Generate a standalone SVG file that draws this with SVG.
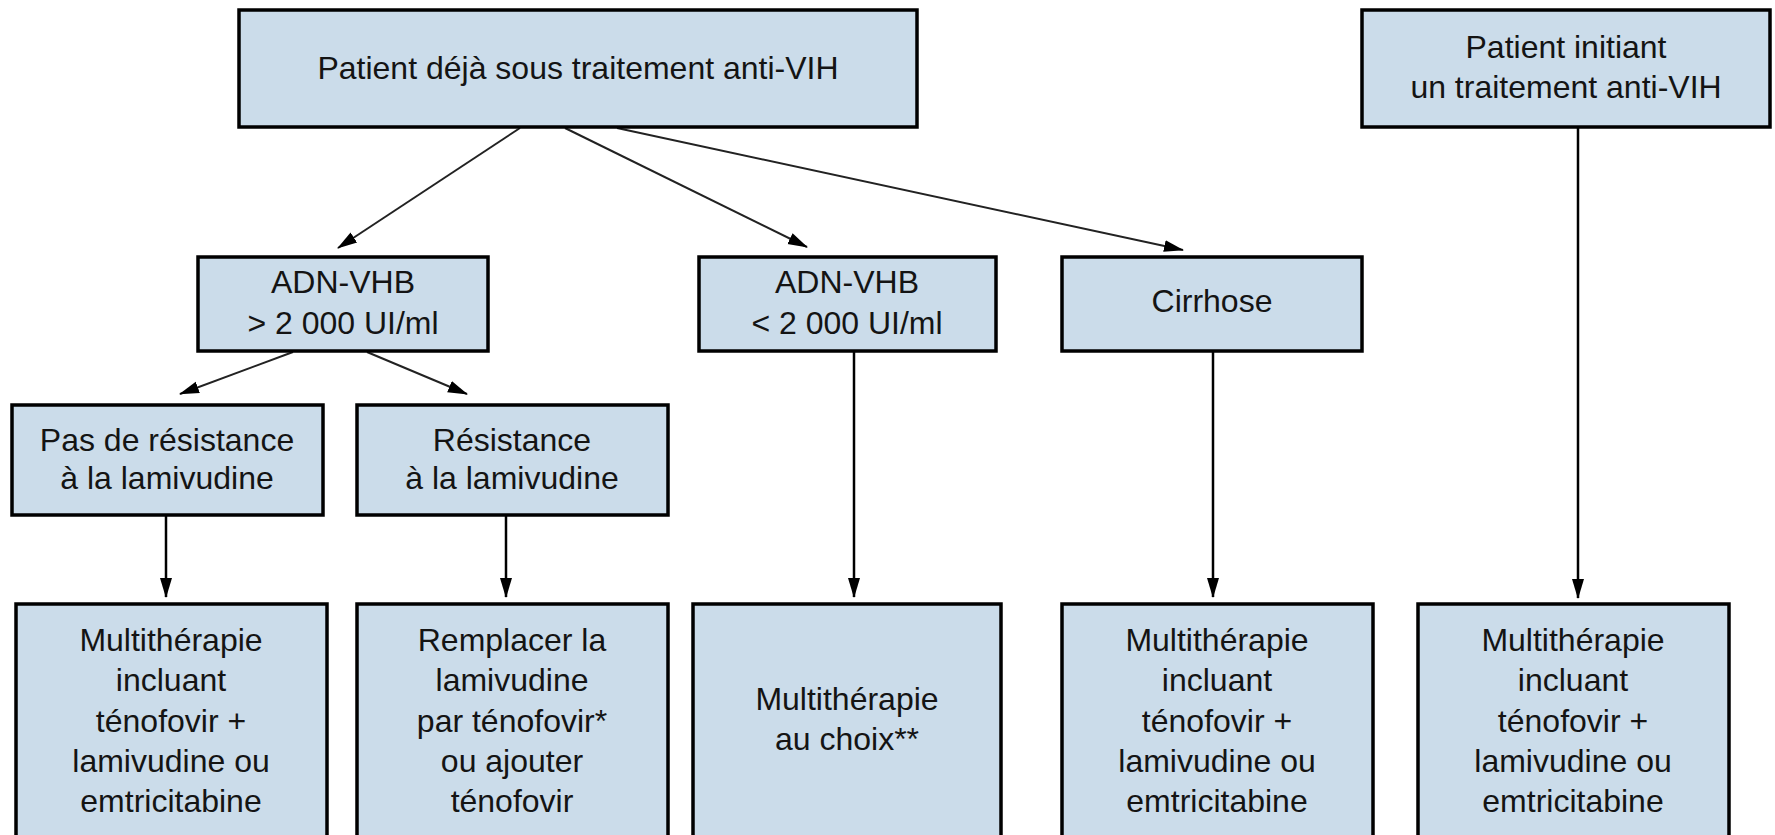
<svg xmlns="http://www.w3.org/2000/svg" width="1775" height="835" viewBox="0 0 1775 835">
<style>
.box{fill:#cbdcea;stroke:#000;stroke-width:3.5}
.t{font-family:"Liberation Sans",Arial,sans-serif;font-size:32px;fill:#141414;text-anchor:middle}
.d{stroke:#222;stroke-width:2;fill:none}
.v{stroke:#000;stroke-width:2.5;fill:none}
</style>
<defs>
<marker id="ah" markerUnits="userSpaceOnUse" viewBox="0 -7 20 14" refX="19" refY="0" markerWidth="20" markerHeight="14" orient="auto">
<path d="M0,-6 L20,0 L0,6 Z" fill="#000"/>
</marker>
</defs>
<rect width="1775" height="835" fill="#fff"/>
<g id="connectors">
<line class="d" x1="520" y1="128" x2="338" y2="248" marker-end="url(#ah)"/>
<line class="d" x1="565" y1="128" x2="807" y2="247" marker-end="url(#ah)"/>
<line class="d" x1="617" y1="128" x2="1183" y2="250" marker-end="url(#ah)"/>
<line class="d" x1="293" y1="352" x2="180" y2="394" marker-end="url(#ah)"/>
<line class="d" x1="367" y1="352" x2="467" y2="394" marker-end="url(#ah)"/>
<line class="v" x1="166" y1="516" x2="166" y2="597" marker-end="url(#ah)"/>
<line class="v" x1="506" y1="516" x2="506" y2="597" marker-end="url(#ah)"/>
<line class="v" x1="854" y1="351" x2="854" y2="597" marker-end="url(#ah)"/>
<line class="v" x1="1213" y1="351" x2="1213" y2="597" marker-end="url(#ah)"/>
<line class="v" x1="1578" y1="127" x2="1578" y2="598" marker-end="url(#ah)"/>
</g>
<g id="n-top">
<rect class="box" x="239" y="10" width="678" height="117"/>
<text class="t" x="578" y="79">Patient déjà sous traitement anti-VIH</text>
</g>
<g id="n-init">
<rect class="box" x="1362" y="10" width="408" height="117"/>
<text class="t" x="1566" y="58">Patient initiant</text>
<text class="t" x="1566" y="98">un traitement anti-VIH</text>
</g>
<g id="n-adn-high">
<rect class="box" x="198" y="257" width="290" height="94"/>
<text class="t" x="343" y="293">ADN-VHB</text>
<text class="t" x="343" y="334">&gt; 2 000 UI/ml</text>
</g>
<g id="n-adn-low">
<rect class="box" x="699" y="257" width="297" height="94"/>
<text class="t" x="847" y="293">ADN-VHB</text>
<text class="t" x="847" y="334">&lt; 2 000 UI/ml</text>
</g>
<g id="n-cirrhose">
<rect class="box" x="1062" y="257" width="300" height="94"/>
<text class="t" x="1212" y="312">Cirrhose</text>
</g>
<g id="n-noresist">
<rect class="box" x="12" y="405" width="311" height="110"/>
<text class="t" x="167" y="451">Pas de résistance</text>
<text class="t" x="167" y="489">à la lamivudine</text>
</g>
<g id="n-resist">
<rect class="box" x="357" y="405" width="311" height="110"/>
<text class="t" x="512" y="451">Résistance</text>
<text class="t" x="512" y="489">à la lamivudine</text>
</g>
<g id="n-b1">
<rect class="box" x="16" y="604" width="311" height="250"/>
<text class="t" x="171" y="651">Multithérapie</text>
<text class="t" x="171" y="691">incluant</text>
<text class="t" x="171" y="732">ténofovir +</text>
<text class="t" x="171" y="772">lamivudine ou</text>
<text class="t" x="171" y="812">emtricitabine</text>
</g>
<g id="n-b2">
<rect class="box" x="357" y="604" width="311" height="250"/>
<text class="t" x="512" y="651">Remplacer la</text>
<text class="t" x="512" y="691">lamivudine</text>
<text class="t" x="512" y="732">par ténofovir*</text>
<text class="t" x="512" y="772">ou ajouter</text>
<text class="t" x="512" y="812">ténofovir</text>
</g>
<g id="n-b3">
<rect class="box" x="693" y="604" width="308" height="250"/>
<text class="t" x="847" y="710">Multithérapie</text>
<text class="t" x="847" y="750">au choix**</text>
</g>
<g id="n-b4">
<rect class="box" x="1062" y="604" width="311" height="250"/>
<text class="t" x="1217" y="651">Multithérapie</text>
<text class="t" x="1217" y="691">incluant</text>
<text class="t" x="1217" y="732">ténofovir +</text>
<text class="t" x="1217" y="772">lamivudine ou</text>
<text class="t" x="1217" y="812">emtricitabine</text>
</g>
<g id="n-b5">
<rect class="box" x="1418" y="604" width="311" height="250"/>
<text class="t" x="1573" y="651">Multithérapie</text>
<text class="t" x="1573" y="691">incluant</text>
<text class="t" x="1573" y="732">ténofovir +</text>
<text class="t" x="1573" y="772">lamivudine ou</text>
<text class="t" x="1573" y="812">emtricitabine</text>
</g>
</svg>
